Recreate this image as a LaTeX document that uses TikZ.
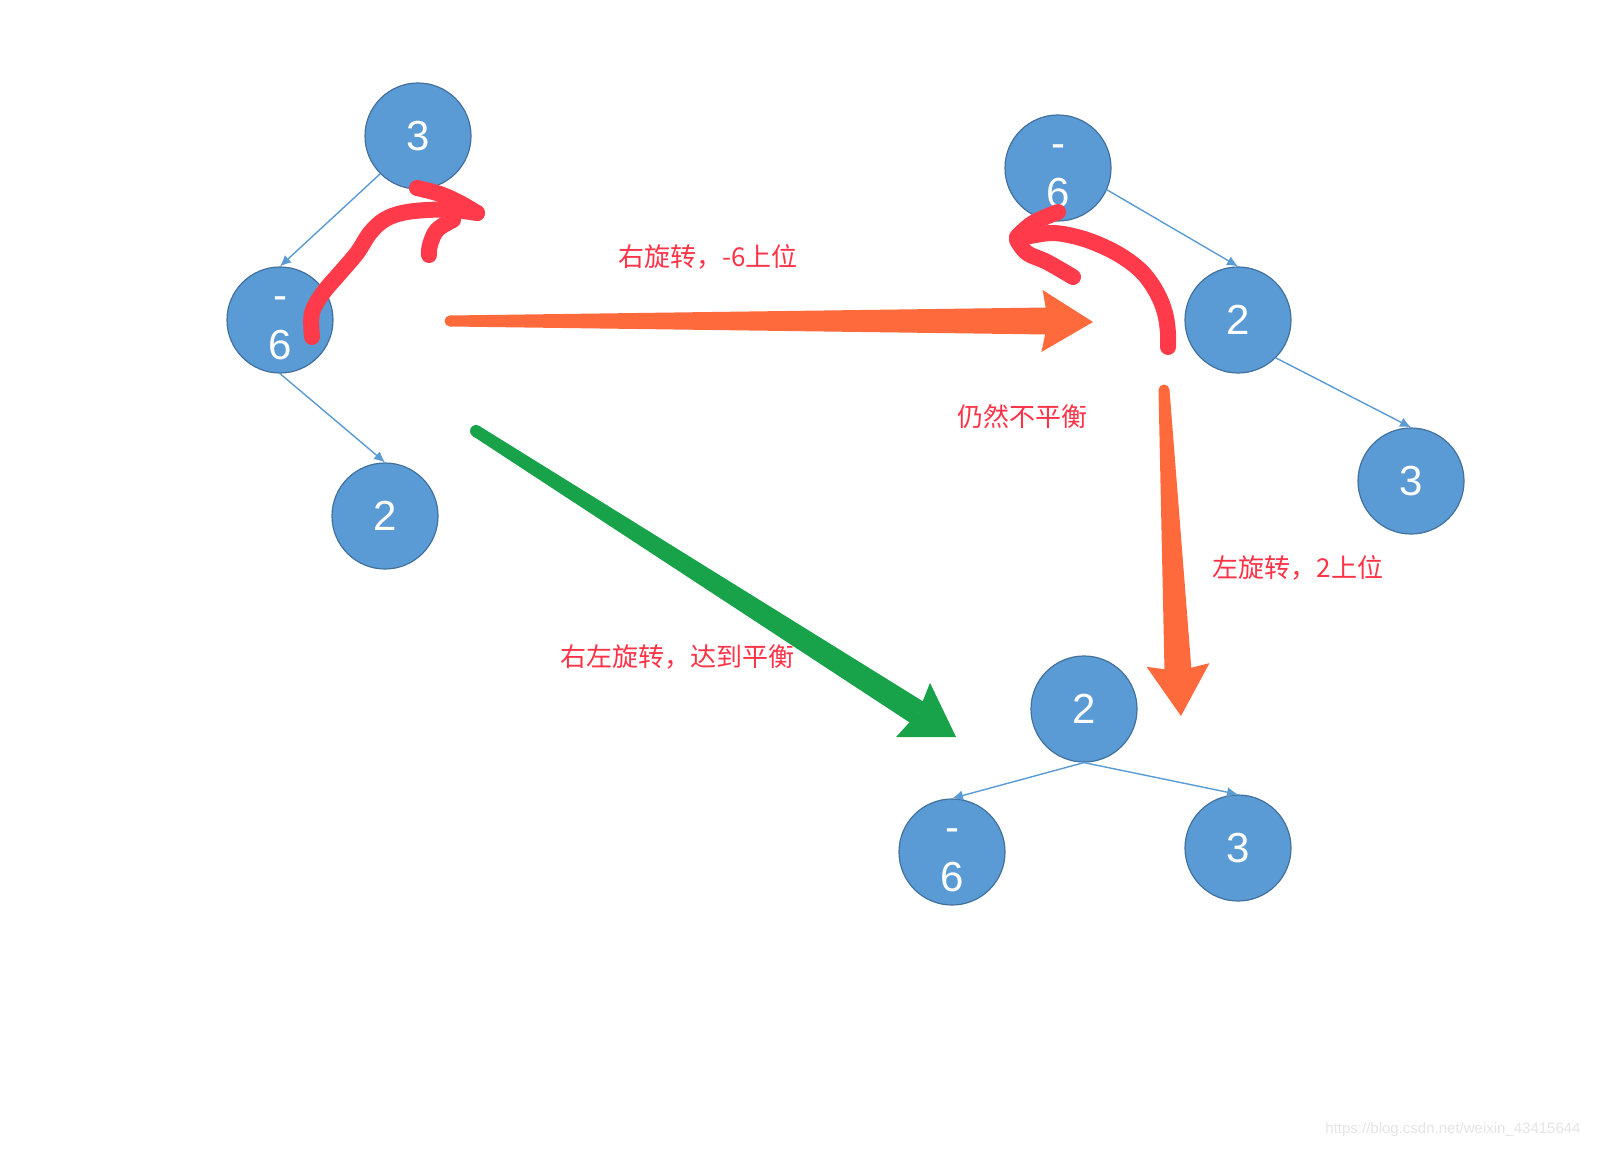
\documentclass[tikz,border=0pt]{standalone}
\usepackage{fontspec}
\usetikzlibrary{calc,arrows.meta}
\newfontfamily\numfont{Liberation Sans}
\newfontfamily\cjk{Noto Sans CJK SC}
\definecolor{nodeblue}{HTML}{5B9BD5}
\definecolor{nodeline}{HTML}{41719C}
\definecolor{penred}{HTML}{FF3A4A}
\definecolor{textred}{HTML}{FF3347}
\definecolor{bigorange}{HTML}{FF6A3C}
\definecolor{biggreen}{HTML}{18A249}
\tikzstyle{treenode} = [circle, minimum size=106pt, inner sep=0pt, draw=nodeline, line width=1.2pt, fill=nodeblue, text=white, font=\numfont\fontsize{42}{50}\selectfont, align=center]
\tikzstyle{link} = [nodeblue, line width=1.4pt, -{Latex[length=11pt,width=10pt]}]
\tikzstyle{note} = [text=textred, font=\cjk\fontsize{26}{30}\selectfont]
\tikzstyle{pen} = [penred, line width=16pt, line cap=round, line join=round]

\begin{document}
\begin{tikzpicture}[x=1pt, y=-1pt]
      \fill[white] (0,0) rectangle (1598,1150);
      % tree before rotation
      \node (a3)[treenode] at (418,136) {3};
      \node (a6)[treenode] at (280,320) {\vphantom{6}-\\6};
      \node (a2)[treenode] at (385,516) {2};
      \draw [link](a3.south west)--(a6.north);
      \draw [link](a6.south)--(a2.north);
      % after right rotation
      \node (b6)[treenode] at (1058,168) {\vphantom{6}-\\6};
      \node (b2)[treenode] at (1238,320) {2};
      \node (b3)[treenode] at (1411,481) {3};
      \draw [link](b6.-24)--(b2.north);
      \draw [link](b2.south east)--(b3.north);
      % balanced
      \node (c2)[treenode] at (1084,709) {2};
      \node (c6)[treenode] at (952,852) {\vphantom{6}-\\6};
      \node (c3)[treenode] at (1238,848) {3};
      \draw [link](c2.south)--(c6.north);
      \draw [link](c2.south)--(c3.north);
      % hand drawn marks
      \draw [pen] plot[smooth, tension=0.6] coordinates {(312,337) (312,313) (323,293) (340,273) (357,253) (370,233) (384,220) (402,213) (427,210) (453,210) (477,213)};
      \draw [pen] plot[smooth, tension=0.6] coordinates {(477,213) (460,203) (440,194) (417,188)};
      \draw [pen] plot[smooth, tension=0.6] coordinates {(453,220) (437,230) (430,245) (429,255)};
      \draw [pen] plot[smooth, tension=0.6] coordinates {(1168,347) (1168,333) (1165,313) (1157,293) (1143,273) (1123,257) (1100,245) (1077,237) (1053,233) (1030,236) (1017,238)};
      \draw [pen] plot[smooth, tension=0.6] coordinates {(1017,237) (1033,223) (1058,212)};
      \draw [pen] plot[smooth, tension=0.6] coordinates {(1017,240) (1027,253) (1047,262) (1073,277)};
      % right rotation arrow
      \coordinate (r0) at (450,321);
      \coordinate (r1) at (1048,321);
      \coordinate (rh) at (1042,321);
      \coordinate (rt) at (1093,322);
      \fill [bigorange](r0) circle (5.5pt);
      \fill [bigorange]($(r0)!5.5pt!90:(r1)$)--($(r1)!13.5pt!-90:(r0)$)--($(r1)!13.5pt!90:(r0)$)--($(r0)!5.5pt!-90:(r1)$)--cycle;
      \fill [bigorange](rt)--($(rh)!31pt!90:(rt)$)--(r1)--($(rh)!31pt!-90:(rt)$)--cycle;
      % left rotation arrow
      \coordinate (l0) at (1164,390);
      \coordinate (l1) at (1178,671);
      \coordinate (lh) at (1178,665);
      \coordinate (lt) at (1181,716);
      \fill [bigorange](l0) circle (5.5pt);
      \fill [bigorange]($(l0)!5.5pt!90:(l1)$)--($(l1)!13.5pt!-90:(l0)$)--($(l1)!13.5pt!90:(l0)$)--($(l0)!5.5pt!-90:(l1)$)--cycle;
      \fill [bigorange](lt)--($(lh)!31.5pt!90:(lt)$)--(l1)--($(lh)!31.5pt!-90:(lt)$)--cycle;
      % right-left rotation arrow
      \coordinate (g0) at (476,431);
      \coordinate (g1) at (918,713);
      \coordinate (gh) at (913,710);
      \coordinate (gt) at (956,737);
      \fill [biggreen](g0) circle (6pt);
      \fill [biggreen]($(g0)!6pt!90:(g1)$)--($(g1)!12.5pt!-90:(g0)$)--($(g1)!12.5pt!90:(g0)$)--($(g0)!6pt!-90:(g1)$)--cycle;
      \fill [biggreen](gt)--($(gh)!32pt!90:(gt)$)--(g1)--($(gh)!32pt!-90:(gt)$)--cycle;
      % texts
      \node (t1)[note] at (708,257) {右旋转，-6上位};
      \node (t2)[note] at (1022,417) {仍然不平衡};
      \node (t3)[note] at (1298,568) {左旋转，2上位};
      \node (t4)[note] at (677,657) {右左旋转，达到平衡};
      \node (wm)[text=black!10, font=\numfont\fontsize{15}{18}\selectfont] at (1453,1130) {https://blog.csdn.net/weixin\_43415644};
    \end{tikzpicture}
\end{document}
